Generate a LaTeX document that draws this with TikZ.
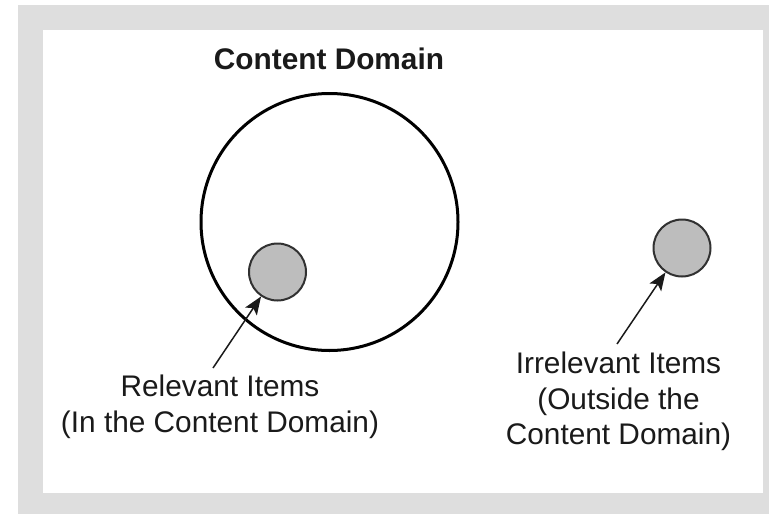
\documentclass[tikz,border=0pt]{standalone}
\usepackage{fontspec}
\setmainfont{Liberation Sans}
\usetikzlibrary{arrows.meta}
\definecolor{frame}{HTML}{DEDEDE}
\definecolor{itemfill}{HTML}{BDBDBD}
\definecolor{ink}{HTML}{1A1A1A}
\tikzset{
  itemdot/.style={circle, draw=ink!90, line width=2pt, fill=itemfill, minimum size=57pt, inner sep=0pt},
  domaincircle/.style={circle, draw=black, line width=3pt, minimum size=257pt, inner sep=0pt},
  itemtext/.style={align=center, inner sep=0pt, anchor=north, text=ink, font=\fontsize{29.8}{35.5}\selectfont},
  pointer/.style={-{Stealth[length=18pt,width=14pt,inset=4pt]}, line width=1.5pt, draw=ink},
}
\begin{document}
\begin{tikzpicture}[x=1pt,y=-1pt]
\useasboundingbox (0,0) rectangle (769,514);
\fill[frame] (18,5) rectangle (769,514);
\fill[white] (43,30) rectangle (763,493);
\node[itemtext, font=\fontsize{29.8}{35}\selectfont\bfseries] (title) at (329,48) {Content Domain};
\node[domaincircle] (dom) at (329.5,222) {};
\node[itemdot] (rel) at (277.5,272) {};
\node[itemdot] (irr) at (682,248) {};
\node[itemtext] (rellab) at (220,375) {Relevant Items\\(In the Content Domain)};
\node[itemtext] (irrlab) at (618.5,352) {Irrelevant Items\\(Outside the\\Content Domain)};
\coordinate (reltail) at (213,368);
\coordinate (irrtail) at (617,344);
\draw[pointer] (reltail) -- (rel);
\draw[pointer] (irrtail) -- (irr);
\end{tikzpicture}
\end{document}
